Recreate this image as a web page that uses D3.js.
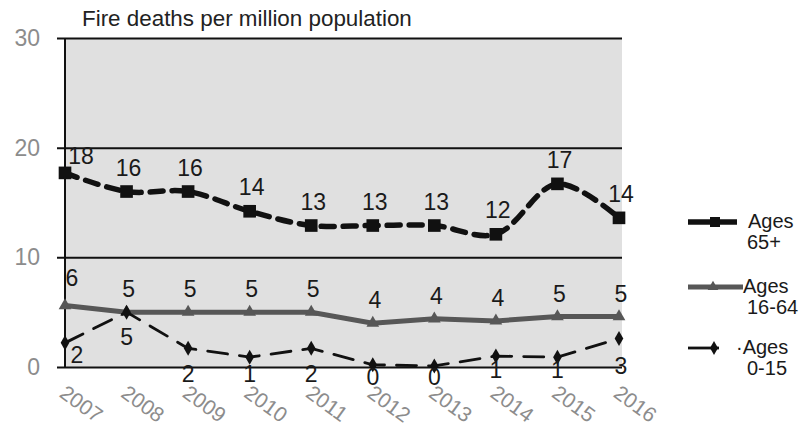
<!DOCTYPE html>
<html>
<head>
<meta charset="utf-8">
<script src="https://cdn.jsdelivr.net/npm/d3@7"></script>
<style>
  html, body { margin: 0; padding: 0; background: #fff; }
  svg { display: block; font-family: "Liberation Sans", Arial, sans-serif; }
</style>
</head>
<body>
<svg id="chart" width="809" height="427"></svg>
<script>
// Fire deaths per million population, by age group
const years = ["2007", "2008", "2009", "2010", "2011", "2012", "2013", "2014", "2015", "2016"];
const ages65plus = [17.7, 16.0, 16.0, 14.2, 12.9, 12.9, 12.9, 12.1, 16.7, 13.6];
const ages16to64 = [5.6, 5.0, 5.0, 5.0, 5.0, 4.0, 4.4, 4.2, 4.6, 4.6];
const ages0to15 = [2.2, 5.0, 1.7, 0.9, 1.7, 0.2, 0.1, 1.0, 0.9, 2.6];
const yTicks = [0, 10, 20, 30];
const seriesNames = [["Ages", "65+"], ["Ages", "16-64"], ["·Ages", "0-15"]];

const svg = d3.select("#chart");
const plotLeft = 65, plotRight = 622, plotTop = 38, plotBottom = 367;
const fontSize = 23;

const x = d3.scalePoint().domain(years).range([plotLeft, 619]);
const y = d3.scaleLinear().domain([0, 30]).range([plotBottom, plotTop]);
const fmt = d3.format(".0f");

// plot background
svg.append("rect")
  .attr("x", plotLeft).attr("y", plotTop)
  .attr("width", plotRight - plotLeft).attr("height", plotBottom - plotTop)
  .attr("fill", "#e0e0e0");

// title
svg.append("text")
  .attr("x", 82).attr("y", 26)
  .attr("font-size", 22.4).attr("fill", "#222")
  .text("Fire deaths per million population");

// horizontal gridlines + y axis
const yAxis = d3.axisLeft(y).tickValues(yTicks).tickSize(-(plotRight - plotLeft)).tickSizeOuter(0).tickPadding(25);
const gy = svg.append("g").attr("transform", `translate(${plotLeft},0)`).call(yAxis);
gy.select(".domain").remove();
gy.selectAll(".tick line")
  .attr("x1", -8).attr("stroke", "#111").attr("stroke-width", 2);
gy.selectAll(".tick text")
  .attr("font-size", fontSize).attr("fill", "#8c8c8c")
  .attr("font-family", "Liberation Sans, Arial, sans-serif");

// vertical axis line
svg.append("line")
  .attr("x1", plotLeft).attr("x2", plotLeft)
  .attr("y1", plotTop).attr("y2", plotBottom)
  .attr("stroke", "#111").attr("stroke-width", 2);

// x axis labels (rotated)
const xAxis = d3.axisBottom(x).tickSize(0).tickPadding(0);
const gx = svg.append("g").attr("transform", `translate(0,${plotBottom})`).call(xAxis);
gx.select(".domain").remove();
gx.selectAll(".tick text")
  .attr("font-size", 21).attr("fill", "#8c8c8c")
  .attr("font-family", "Liberation Sans, Arial, sans-serif")
  .attr("text-anchor", "start")
  .attr("y", 0)
  .attr("dy", "0.35em")
  .attr("transform", "translate(-3,23) rotate(36)");

const series = [
  { values: ages65plus, color: "#111", width: 5.5, dash: "13,9", curve: d3.curveCatmullRom, marker: "square" },
  { values: ages16to64, color: "#575757", width: 5, dash: null, curve: d3.curveLinear, marker: "triangle" },
  { values: ages0to15, color: "#111", width: 2.8, dash: "20,12", curve: d3.curveLinear, marker: "diamond" }
];

const symbolOf = {
  square: d3.symbol().type(d3.symbolSquare).size(160),
  triangle: d3.symbol().type(d3.symbolTriangle).size(70),
  diamond: d3.symbol().type(d3.symbolDiamond).size(65)
};
const legendSymbolOf = {
  square: d3.symbol().type(d3.symbolSquare).size(100),
  triangle: d3.symbol().type(d3.symbolTriangle).size(50),
  diamond: d3.symbol().type(d3.symbolDiamond).size(55)
};

series.forEach(s => {
  const pts = years.map((yr, i) => [x(yr), y(s.values[i])]);
  svg.append("path")
    .attr("d", d3.line().curve(s.curve)(pts))
    .attr("fill", "none")
    .attr("stroke", s.color)
    .attr("stroke-width", s.width)
    .attr("stroke-dasharray", s.dash)
    .attr("stroke-linecap", s.dash ? "round" : "butt");
  svg.selectAll(null).data(pts).enter().append("path")
    .attr("d", symbolOf[s.marker]())
    .attr("transform", d => `translate(${d[0]},${d[1]})`)
    .attr("fill", s.color);
});

// data labels
function addLabels(values, offsets) {
  svg.selectAll(null).data(values).enter().append("text")
    .attr("x", (d, i) => x(years[i]) + offsets[i][0])
    .attr("y", (d, i) => y(d) + offsets[i][1])
    .attr("text-anchor", "middle")
    .attr("font-size", fontSize).attr("fill", "#1a1a1a")
    .text(d => fmt(d));
}
addLabels(ages65plus, years.map((yr, i) => i === 0 ? [16, -9] : [2, -16]));
addLabels(ages16to64, years.map((yr, i) => i === 0 ? [7, -20] : [2, -15]));
const below0to15 = [[12, 20], [0, 33], [0, 34], [0, 25], [0, 34], [0, 20], [0, 19], [0, 22], [0, 21], [2, 36]];
addLabels(ages0to15, below0to15);

// legend: two-line labels, each line its own text
const legendRows = [
  { y: 222, s: series[0], x1: 688, x2: 737, mx: 715, tx: 748 },
  { y: 287, s: series[1], x1: 688, x2: 743, mx: 713, tx: 743 },
  { y: 348, s: series[2], x1: 688, x2: 719, mx: 714, tx: 736 }
];
legendRows.forEach((row, i) => {
  const g = svg.append("g");
  g.append("line")
    .attr("x1", row.x1).attr("x2", row.x2).attr("y1", row.y).attr("y2", row.y)
    .attr("stroke", row.s.color).attr("stroke-width", row.s.width);
  g.append("path")
    .attr("d", legendSymbolOf[row.s.marker]())
    .attr("transform", `translate(${row.mx},${row.y})`)
    .attr("fill", row.s.color);
  g.append("text")
    .attr("x", row.tx).attr("y", row.y + 6)
    .attr("font-size", 20).attr("fill", "#1a1a1a")
    .text(seriesNames[i][0]);
  g.append("text")
    .attr("x", 747).attr("y", row.y + 27)
    .attr("font-size", 20).attr("fill", "#1a1a1a")
    .text(seriesNames[i][1]);
});
</script>
</body>
</html>
